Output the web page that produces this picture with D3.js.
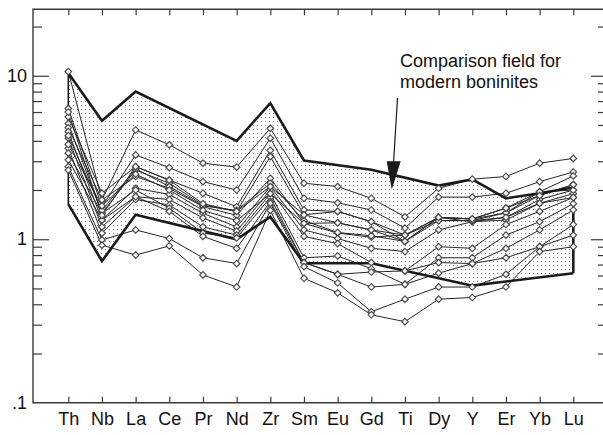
<!DOCTYPE html>
<html>
<head>
<meta charset="utf-8">
<script src="https://cdn.jsdelivr.net/npm/d3@7"></script>
<style>
  body { margin: 0; background: #fff; }
  svg { display: block; font-family: "Liberation Sans", Arial, sans-serif; }
</style>
</head>
<body>
<div id="chart"></div>
<script>
// Element order along the x axis
const elements = ["Th", "Nb", "La", "Ce", "Pr", "Nd", "Zr", "Sm", "Eu", "Gd", "Ti", "Dy", "Y", "Er", "Yb", "Lu"];

// Boninite comparison field: upper and lower envelope vertices
const fieldUpper = [["Th", 10.4], ["Nb", 5.3], ["La", 8.0], ["Nd", 4.0], ["Zr", 6.8], ["Sm", 3.03],
                    ["Gd", 2.66], ["Dy", 2.13], ["Y", 2.32], ["Er", 1.78], ["Yb", 1.91], ["Lu", 2.07]];
const fieldLower = [["Th", 1.64], ["Nb", 0.735], ["La", 1.41], ["Nd", 1.0], ["Zr", 1.37], ["Sm", 0.713],
                    ["Gd", 0.713], ["Y", 0.52], ["Lu", 0.62]];

// Sample patterns (primitive-mantle normalised), same order as elements
const s01 = [10.6, 1.74, 4.66, 3.78, 2.92, 2.76, 4.77, 2.2, 2.1, 1.78, 1.37, 2.05, 2.33, 2.42, 2.92, 3.12];
const s02 = [6.3, 1.58, 3.28, 2.74, 2.25, 2.0, 4.15, 1.78, 1.67, 1.51, 1.17, 1.81, 1.81, 1.91, 2.25, 2.58];
const s03 = [5.6, 1.91, 2.78, 2.3, 1.91, 1.58, 3.5, 1.51, 1.48, 1.28, 1.06, 1.36, 1.33, 1.55, 1.95, 2.44];
const s04 = [5.1, 1.44, 2.65, 2.2, 1.62, 1.48, 3.2, 1.41, 1.26, 1.14, 0.97, 1.3, 1.3, 1.45, 1.85, 2.16];
const s05 = [4.8, 1.74, 2.42, 2.05, 1.58, 1.4, 2.36, 1.25, 1.09, 1.03, 1.06, 1.36, 1.28, 1.36, 1.75, 2.0];
const s06 = [4.55, 1.31, 2.05, 1.88, 1.44, 1.19, 2.1, 1.14, 1.01, 0.88, 0.84, 1.14, 1.28, 1.31, 1.66, 1.9];
const s07 = [4.15, 1.19, 1.82, 1.75, 1.35, 1.12, 2.0, 1.04, 0.94, 0.72, 0.64, 0.9, 0.88, 1.23, 1.48, 1.8];
const s08 = [3.6, 1.09, 1.75, 1.62, 1.19, 1.06, 1.9, 0.77, 0.79, 0.66, 0.53, 0.77, 0.77, 1.06, 1.28, 1.65];
const s09 = [3.36, 1.44, 2.0, 1.55, 1.09, 1.02, 1.8, 0.72, 0.61, 0.63, 0.64, 0.72, 0.71, 0.88, 1.14, 1.51];
const s10 = [3.06, 1.31, 1.82, 1.48, 1.04, 0.88, 1.7, 0.72, 0.61, 0.51, 0.53, 0.62, 0.71, 0.77, 0.9, 1.23];
const s11 = [4.3, 1.5, 2.7, 2.1, 1.6, 1.5, 2.2, 1.3, 1.1, 1.05, 0.97, 1.36, 1.33, 1.45, 1.95, 2.0];
const s12 = [3.8, 1.6, 2.5, 2.0, 1.5, 1.3, 1.9, 1.25, 1.26, 1.14, 1.06, 1.3, 1.3, 1.36, 1.66, 1.8];
const s13 = [6.0, 1.4, 2.78, 2.3, 1.65, 1.48, 2.1, 1.41, 1.48, 1.28, 0.97, 1.36, 1.33, 1.55, 1.85, 2.16];
const s14 = [2.78, 0.99, 1.14, 1.01, 0.77, 0.71, 1.66, 0.68, 0.54, 0.36, 0.43, 0.51, 0.51, 0.61, 0.9, 1.06];
const s15 = [2.65, 0.92, 0.80, 0.91, 0.605, 0.51, 1.5, 0.577, 0.47, 0.345, 0.313, 0.43, 0.44, 0.51, 0.84, 0.9];
const samples = [s01, s02, s03, s04, s05, s06, s07, s08, s09, s10, s11, s12, s13, s14, s15];

// Axis ticks
const majorTicks = [0.1, 1, 10];
const minorTicks = [0.2, 0.3, 0.4, 0.5, 0.6, 0.7, 0.8, 0.9, 2, 3, 4, 5, 6, 7, 8, 9, 20];

const W = 603, H = 435;
const frame = { left: 33, right: 607, top: 9.3, bottom: 402.7 };

const svg = d3.select("#chart").append("svg")
    .attr("width", W)
    .attr("height", H);

const x = d3.scalePoint()
    .domain(elements)
    .range([68.3, 573.3]);

const y = d3.scaleLog()
    .domain([0.1, 25.5])
    .range([frame.bottom, frame.top]);

// Stipple pattern for the comparison field
const defs = svg.append("defs");
const pat = defs.append("pattern")
    .attr("id", "stipple")
    .attr("patternUnits", "userSpaceOnUse")
    .attr("width", 4)
    .attr("height", 4);
pat.append("rect")
    .attr("x", 1).attr("y", 1)
    .attr("width", 1).attr("height", 1)
    .attr("fill", "#8c8c8c");

const upperPts = fieldUpper.map(d => [x(d[0]), y(d[1])]);
const lowerPts = fieldLower.map(d => [x(d[0]), y(d[1])]);
const fieldPoly = upperPts.concat(lowerPts.slice().reverse());

svg.append("path")
    .attr("d", d3.line()(fieldPoly) + "Z")
    .attr("fill", "url(#stipple)")
    .attr("stroke", "none");

// Sample lines and markers
const line = d3.line()
    .x((d, i) => x(elements[i]))
    .y(d => y(d));

svg.append("g")
    .selectAll("path")
    .data(samples)
    .join("path")
    .attr("d", line)
    .attr("fill", "none")
    .attr("stroke", "#262626")
    .attr("stroke-width", 1);

// Field outline drawn heavy
const heavy = svg.append("g")
    .attr("fill", "none")
    .attr("stroke", "#1a1a1a")
    .attr("stroke-width", 2.6)
    .attr("stroke-linejoin", "miter");
heavy.append("path").attr("d", d3.line()(upperPts));
heavy.append("path").attr("d", d3.line()(lowerPts));
heavy.append("path").attr("d", d3.line()([upperPts[0], lowerPts[0]])).attr("stroke-width", 1.6);
heavy.append("path").attr("d", d3.line()([upperPts[upperPts.length - 1], lowerPts[lowerPts.length - 1]]));

const diamond = d3.symbol().type(d3.symbolDiamond2).size(28);
const markers = svg.append("g");
samples.forEach(s => {
    markers.selectAll(null)
        .data(s)
        .join("path")
        .attr("transform", (d, i) => `translate(${x(elements[i])},${y(d)})`)
        .attr("d", diamond)
        .attr("fill", "#f4f4f4")
        .attr("stroke", "#444")
        .attr("stroke-width", 1.1);
});

// Frame and ticks
const axisColor = "#3a3a3a";
function styleAxis(g) {
    g.select(".domain").remove();
    g.selectAll("line").attr("stroke", axisColor).attr("stroke-width", 1.2);
}

svg.append("g").attr("transform", `translate(${frame.left},0)`)
    .call(d3.axisRight(y).tickValues(minorTicks).tickSize(9).tickFormat(""))
    .call(styleAxis);
svg.append("g").attr("transform", `translate(${frame.left},0)`)
    .call(d3.axisRight(y).tickValues([1, 10]).tickSize(16).tickFormat(""))
    .call(styleAxis);
svg.append("g").attr("transform", `translate(${frame.right},0)`)
    .call(d3.axisLeft(y).tickValues(minorTicks).tickSize(9).tickFormat(""))
    .call(styleAxis);
svg.append("g").attr("transform", `translate(${frame.right},0)`)
    .call(d3.axisLeft(y).tickValues([1, 10]).tickSize(16).tickFormat(""))
    .call(styleAxis);
svg.append("g").attr("transform", `translate(0,${frame.top})`)
    .call(d3.axisBottom(x).tickSize(6).tickFormat(""))
    .call(styleAxis);
svg.append("g").attr("transform", `translate(0,${frame.bottom})`)
    .call(d3.axisTop(x).tickSize(6).tickFormat(""))
    .call(styleAxis);

svg.append("path")
    .attr("d", `M${frame.right},${frame.top}H${frame.left}V${frame.bottom}H${frame.right}`)
    .attr("fill", "none")
    .attr("stroke", axisColor)
    .attr("stroke-width", 1.4);

// Tick labels
const yLabels = svg.append("g").attr("transform", `translate(${frame.left},0)`)
    .call(d3.axisLeft(y).tickValues(majorTicks).tickSize(0).tickPadding(6)
        .tickFormat(d => d === 0.1 ? ".1" : d3.format("d")(d)));
yLabels.select(".domain").remove();
yLabels.selectAll("text")
    .attr("font-size", 18)
    .attr("font-family", "Liberation Sans, Arial, sans-serif")
    .attr("fill", "#111");

const xLabels = svg.append("g").attr("transform", `translate(0,${frame.bottom})`)
    .call(d3.axisBottom(x).tickSize(0).tickPadding(10));
xLabels.select(".domain").remove();
xLabels.selectAll("text")
    .attr("font-size", 18)
    .attr("font-family", "Liberation Sans, Arial, sans-serif")
    .attr("fill", "#111");

// Annotation with arrow
const note = svg.append("text")
    .attr("x", 400)
    .attr("y", 66.5)
    .attr("font-size", 18)
    .attr("fill", "#111");
note.append("tspan").attr("x", 400).text("Comparison field for");
note.append("tspan").attr("x", 400).attr("dy", 21.8).text("modern boninites");

svg.append("line")
    .attr("x1", 397.5).attr("y1", 98)
    .attr("x2", 393.6).attr("y2", 162)
    .attr("stroke", "#1a1a1a")
    .attr("stroke-width", 1.2);
svg.append("path")
    .attr("d", "M386.7,161.2L400.7,161.2L391.8,189.5Z")
    .attr("fill", "#1a1a1a");
</script>
</body>
</html>
